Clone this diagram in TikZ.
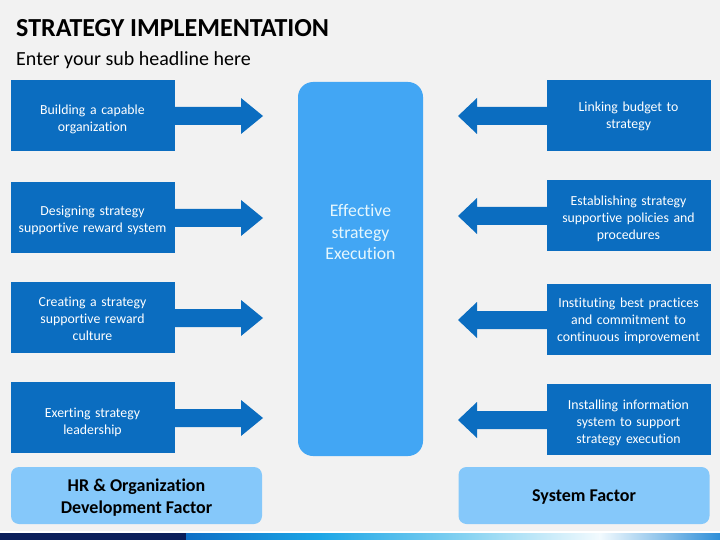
\documentclass[tikz,border=0pt]{standalone}
\usepackage{fontspec}
\setmainfont{Carlito}[Ligatures=NoCommon]
\definecolor{bg}{HTML}{F2F2F2}
\definecolor{dblue}{HTML}{0B6DC0}
\definecolor{cblue}{HTML}{42A6F4}
\definecolor{lblue}{HTML}{85C8FA}
\definecolor{navy}{HTML}{0A1E5A}
\definecolor{barA}{HTML}{0E6FC6}
\definecolor{barB}{HTML}{1CA6E6}
\definecolor{barC}{HTML}{8AD4F2}
\definecolor{barD}{HTML}{F2FAFE}
\definecolor{barE}{HTML}{2F8FD8}
\tikzset{
  x=1pt, y=-1pt,
  factorbox/.style={fill=dblue, draw=none, minimum width=164pt, minimum height=71pt, inner sep=0},
  factortext/.style={text=white, align=center, font=\fontsize{13.8}{17}\selectfont, inner sep=0, text width=160pt},
  basebox/.style={fill=lblue, draw=none, rounded corners=8pt, minimum width=251pt, minimum height=57pt, inner sep=0},
  basetext/.style={align=center, font=\bfseries\fontsize{18}{22}\selectfont, inner sep=0}
}
\newcommand{\rarrow}[1]{%
  \fill[dblue] (174,#1-9) -- (241,#1-9) -- (241,#1-18) -- (263,#1) -- (241,#1+18) -- (241,#1+9) -- (174,#1+9) -- cycle;}
\newcommand{\larrow}[1]{%
  \fill[dblue] (547,#1-9) -- (477,#1-9) -- (477,#1-18) -- (458,#1) -- (477,#1+18) -- (477,#1+9) -- (547,#1+9) -- cycle;}
\begin{document}
\begin{tikzpicture}
\fill[bg] (0,0) rectangle (720,540);
\useasboundingbox (0,0) rectangle (720,540);
% title
\node[anchor=base west, inner sep=0, font=\bfseries\fontsize{26}{30}\selectfont] (title) at (16,37) {STRATEGY IMPLEMENTATION};
\node[anchor=base west, inner sep=0, font=\fontsize{20}{24}\selectfont] (sub) at (16,66) {Enter your sub headline here};
% center
\node[fill=cblue, draw=none, rounded corners=15pt, minimum width=125pt, minimum height=374pt, inner sep=0] (center) at (360.5,269) {};
\node[text=white!90!cyan, align=center, font=\fontsize{17.7}{21.5}\selectfont] (ctext) at (360.5,232) {Effective\\strategy\\Execution};
% arrows
\rarrow{116}
\rarrow{218}
\rarrow{318}
\rarrow{418}
\larrow{116}
\larrow{216}
\larrow{320}
\larrow{420}
% left boxes
\node[factorbox] (l1) at (92.5,115.5) {};
\node[factorbox] (l2) at (92.5,217.5) {};
\node[factorbox] (l3) at (92.5,317.5) {};
\node[factorbox] (l4) at (92.5,417.5) {};
\node[factortext] (l1t) at (92.5,119.5) {Building a capable\\organization};
\node[factortext] (l2t) at (92.5,220.5) {Designing strategy\\supportive reward system};
\node[factortext] (l3t) at (92.5,318.5) {Creating a strategy\\supportive reward\\culture};
\node[factortext] (l4t) at (92.5,422) {Exerting strategy\\leadership};
% right boxes
\node[factorbox] (r1) at (628.5,115.5) {};
\node[factorbox] (r2) at (628.5,215.5) {};
\node[factorbox] (r3) at (628.5,319.5) {};
\node[factorbox] (r4) at (628.5,419.5) {};
\node[factortext] (r1t) at (628.5,116.5) {Linking budget to\\strategy};
\node[factortext] (r2t) at (628.5,219) {Establishing strategy\\supportive policies and\\procedures};
\node[factortext] (r3t) at (628.5,320.5) {Instituting best practices\\and commitment to\\continuous improvement};
\node[factortext] (r4t) at (628.5,422.5) {Installing information\\system to support\\strategy execution};
% bottom
\node[basebox] (hr) at (136.5,495.5) {};
\node[basebox] (sys) at (584,495.5) {};
\node[basetext] (hrt) at (136.5,498) {HR \& Organization\\Development Factor};
\node[basetext] (syst) at (584,497.5) {System Factor};
% bottom bar
\fill[white] (0,531) rectangle (720,533);
\fill[navy] (0,533) rectangle (186,540);
\shade[left color=barA, right color=barB] (186,533) rectangle (320,540);
\shade[left color=barB, right color=barC] (319.5,533) rectangle (470,540);
\shade[left color=barC, right color=barD] (469.5,533) rectangle (600,540);
\shade[left color=barD, right color=barE] (599.5,533) rectangle (720,540);
\end{tikzpicture}
\end{document}
